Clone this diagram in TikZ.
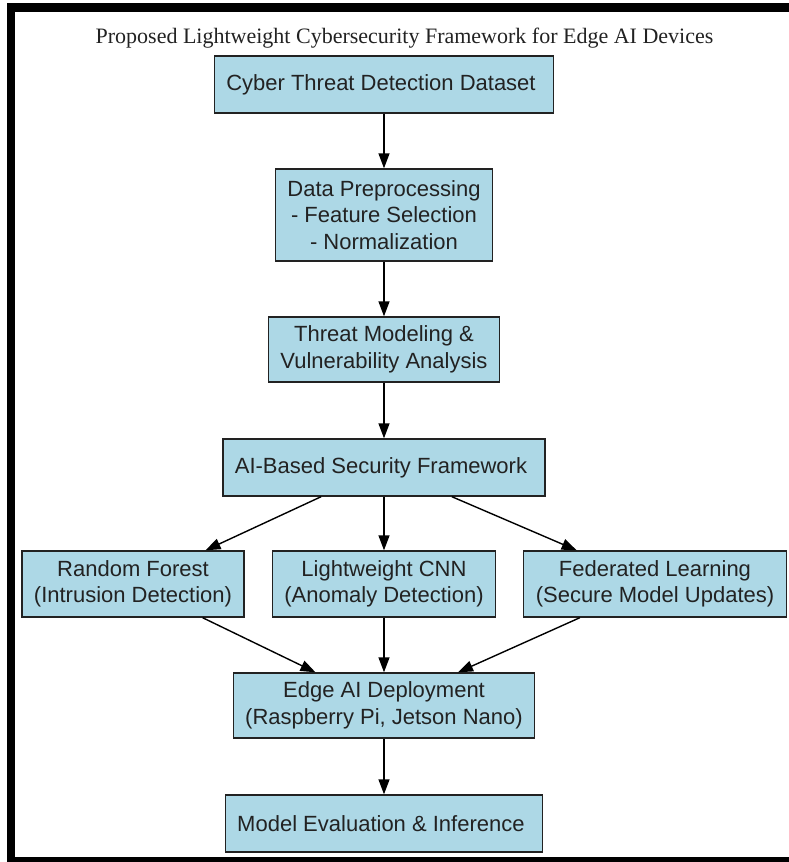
\documentclass[tikz,border=0pt]{standalone}
\usepackage{fontspec}
\setmainfont{Liberation Serif}
\newfontfamily\boxfont{Liberation Sans}
\usetikzlibrary{arrows.meta}
\definecolor{boxblue}{HTML}{ADD8E6}
\definecolor{inkgray}{HTML}{222222}

\begin{document}
\begin{tikzpicture}[x=1pt,y=-1pt,
		stage/.style={rectangle,draw=inkgray,fill=boxblue,line width=1.4pt,align=center,text=inkgray,
			font=\boxfont\fontsize{22}{26.4}\selectfont,inner xsep=12pt,inner ysep=0pt,minimum height=57pt},
		flow/.style={-{Triangle[length=15pt,width=11pt]},line width=1.4pt,draw=black}
	]
	\useasboundingbox (0,0) rectangle (789,862);
	% frame
	\fill[black] (7,3) rectangle (15,862);
	\fill[black] (7,3) rectangle (789,12);
	\fill[black] (7,857) rectangle (789,862);

	\node[anchor=base,text=inkgray,font=\fontsize{22}{26}\selectfont] (T) at (404.5,43) {
		Proposed Lightweight Cybersecurity Framework for Edge AI Devices
	};
	\node[stage] (D) at (384,84.5) {
		Cyber Threat Detection Dataset
	};
	\node[stage,minimum height=92pt] (P) at (384,215) {
		Data Preprocessing\\- Feature Selection\\- Normalization
	};
	\node[stage,minimum height=65pt] (V) at (384,349.5) {
		Threat Modeling \&\\Vulnerability Analysis
	};
	\node[stage] (F) at (384,467.5) {
		AI-Based Security Framework
	};
	\node[stage,minimum height=66pt] (R) at (133,584) {
		Random Forest\\(Intrusion Detection)
	};
	\node[stage,minimum height=66pt] (C) at (384,584) {
		Lightweight CNN\\(Anomaly Detection)
	};
	\node[stage,minimum height=66pt] (L) at (655,584) {
		Federated Learning\\(Secure Model Updates)
	};
	\node[stage,minimum height=65pt] (E) at (384,705.5) {
		Edge AI Deployment\\(Raspberry Pi, Jetson Nano)
	};
	\node[stage] (M) at (384,823.5) {
		Model Evaluation \& Inference
	};
	\draw[flow] (D) edge (P);
	\draw[flow] (P) edge (V);
	\draw[flow] (V) edge (F);
	\draw[flow] (F) edge (R);
	\draw[flow] (F) edge (C);
	\draw[flow] (F) edge (L);
	\draw[flow] (R) edge (E);
	\draw[flow] (C) edge (E);
	\draw[flow] (L) edge (E);
	\draw[flow] (E) edge (M);
\end{tikzpicture}
\end{document}
